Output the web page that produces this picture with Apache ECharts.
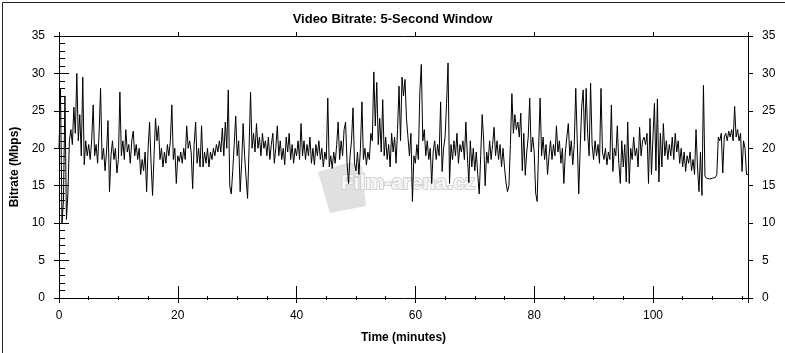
<!DOCTYPE html>
<html>
<head>
<meta charset="utf-8">
<script src="https://cdn.jsdelivr.net/npm/echarts@6/dist/echarts.min.js"></script>
<style>
html,body{margin:0;padding:0;background:#fff;}
#chart{width:785px;height:353px;}
</style>
</head>
<body>
<div id="chart"></div>
<script>
// Video bitrate (Mbps), one sample every 0.25 minute, starting at minute 0
const sampleStepMinutes = 0.25;
const bitrate00to10 = [
  20,28,10,13,27,10.5,14,21,22.5,20.5,25.5,22,30,21,24.5,19,29.5,17.8,21,19,
  20.5,18.5,21,25.8,19,20.5,18,22,28,18.5,20,17,19.5,23.7,14.2,19,21,18.5,20,16.7
];
const bitrate10to20 = [
  18.5,27.5,19,21,18.5,22.5,19.5,20.5,18,21,22.3,19,20.5,18.5,20,16.5,18.5,17,19.5,14.2,
  20,23.5,18,13.7,19,24,21,23,18.5,20,17.5,19.5,18,20.5,19,21,25.8,18.5,20,15.3
];
const bitrate20to30 = [
  19,18.2,19.5,18,20,18.5,23,20,21,19.5,14.6,20.5,23.5,18,20,17.5,23,17.5,19.5,18,
  20,17.5,19.5,18.5,20,19,20.5,19.5,21,19.5,22.7,19,23.5,20,27.8,15,13.9,17,20.5,24.3
];
const bitrate30to40 = [
  19,21,14.2,18,23.3,19,16,13.3,20,27.5,20,22,19.5,23.3,20,21.5,19,22,20,21,
  19,21.5,18.5,20.5,22,18,20,23,19,21,18.5,20,17.8,21.5,19.5,22,18.5,20.5,18,20
];
const bitrate40to50 = [
  19,21,18.5,23.3,19,21,18.5,20.5,19,21.5,18,20,17.8,20.5,19,21,18.5,20,17.5,19.5,
  18.5,26.7,17.5,19,17.3,19.5,18,20.5,23.5,18.5,21,19,22.5,23.5,18,15.3,19,21,25.4,18
];
const bitrate50to60 = [
  17,19.5,16.5,20,26.2,18.5,20,17.8,19.5,18.5,22,21,30.2,23,28.8,20.5,24,19.5,26.5,19,
  21.5,18.5,20.5,17.5,22,19.5,21.5,18,22.5,28.3,21,29.5,27,29.2,24,21.5,19,22,12.9,19
];
const bitrate60to70 = [
  18,20.5,18.5,27.5,31.2,21,22.5,19,21,18.5,20,15.3,19.5,21,18.5,20.5,19,26.2,16.9,20,
  21.5,26,31.4,15.3,20.5,18.5,21,19,22,18,20.5,19.5,21,18.5,23.5,19,15.4,21,17.5,20
];
const bitrate70to80 = [
  17,19.5,16.5,13.9,19,24.5,21,15,19.5,18,21,18.5,20.5,22.8,19,21,18.5,20.5,17.5,20,
  17.5,15.5,14.2,15,20.5,27.3,22,24.5,22.5,23.5,21.5,24.7,17,22,16.4,19.5,21.5,26.7,19.5,21.5
];
const bitrate80to90 = [
  19.5,14,12.9,20,26.7,19,21.5,18.5,20.5,16.5,19,21,18.5,20.5,19,23,19.5,21,18,20,
  15.3,19.5,21.5,23.3,19,21,17.8,20.5,28,21,13.9,20,25.5,27.8,21,28,22,19,28.7,20.5
];
const bitrate90to100 = [
  18.5,21,19,20.5,18,28,19.5,18.5,20,17.8,19.5,18.5,25.8,16.9,20,19,23,18,15.3,21,
  17.5,20.5,15.5,23.5,15.3,20,18.5,21.5,19,20,17.5,22.8,19,21,21.5,20.5,22,15.3,24,16.5
];
const bitrate100to110 = [
  21.5,26,17,26.6,15.5,22,17.5,23.3,19,21,18.5,20.5,19,21.5,18.5,22,19.5,21,18,20,
  17.5,19.5,16.9,19,18,19.5,17,18.5,16.5,22.5,17.5,14.2,19.5,13.7,28.4,16.3,16,16.2,15.9,16.1
];
const bitrate110toEnd = [
  16,16.2,16.1,16.5,21.5,21,22,16.7,21.5,22,21,22.3,21.5,22.5,21,25.6,21.5,22.5,21,22,
  16.9,21,20,16.5,16.5
];

const titleText = 'Video Bitrate: 5-Second Window';
const xName = 'Time (minutes)';
const yName = 'Bitrate (Mbps)';
const watermarkText = 'Film-arena.cz';

const bitrate = [].concat(bitrate00to10, bitrate10to20, bitrate20to30, bitrate30to40,
  bitrate40to50, bitrate50to60, bitrate60to70, bitrate70to80, bitrate80to90,
  bitrate90to100, bitrate100to110, bitrate110toEnd);
const seriesData = bitrate.map((v, i) => [i * sampleStepMinutes, v]);

const FONT = 'Liberation Sans, Arial, sans-serif';
const X_MIN = 0, X_MAX = 116, Y_MIN = 0, Y_MAX = 35;

// axis that only draws outward ticks; a negative offset shifts it into the plot
// so that its outward ticks end on the frame (giving "inside" ticks)
function tickAxis(kind, position, interval, length, offset) {
  const base = kind === 'x'
    ? { min: X_MIN, max: X_MAX } : { min: Y_MIN, max: Y_MAX };
  return Object.assign(base, {
    type: 'value', position: position, interval: interval, offset: offset || 0,
    axisLine: { show: false },
    axisTick: { show: true, inside: false, length: length, lineStyle: { color: '#000', width: 1 } },
    axisLabel: { show: false },
    splitLine: { show: false }
  });
}

const xMain = Object.assign(tickAxis('x', 'bottom', 20, 5, 0), {
  axisLine: { show: true, onZero: false, lineStyle: { color: '#000', width: 1 } },
  axisLabel: { show: true, color: '#000', fontFamily: FONT, fontSize: 12, margin: 12,
    formatter: v => (v % 20 === 0 ? String(v) : '') },
  name: xName, nameLocation: 'middle', nameGap: 34,
  nameTextStyle: { fontFamily: FONT, fontSize: 12, fontWeight: 'bold', color: '#000' }
});
const xTopFrame = Object.assign(tickAxis('x', 'top', 20, 4, 0), {
  axisLine: { show: true, onZero: false, lineStyle: { color: '#000', width: 1 } }
});
const yMain = Object.assign(tickAxis('y', 'left', 5, 5, 0), {
  axisLine: { show: true, onZero: false, lineStyle: { color: '#000', width: 1 } },
  axisLabel: { show: true, color: '#000', fontFamily: FONT, fontSize: 12, margin: 14 },
  name: yName, nameLocation: 'middle', nameGap: 34,
  nameTextStyle: { fontFamily: FONT, fontSize: 12, fontWeight: 'bold', color: '#000' }
});
const yRight = Object.assign(tickAxis('y', 'right', 5, 5, 0), {
  axisLine: { show: true, onZero: false, lineStyle: { color: '#000', width: 1 } },
  axisLabel: { show: true, color: '#000', fontFamily: FONT, fontSize: 12, margin: 14 }
});

const chart = echarts.init(document.getElementById('chart'), null, { renderer: 'canvas' });
chart.setOption({
  backgroundColor: '#fff',
  animation: false,
  title: {
    text: titleText, left: 'center', top: 8,
    textStyle: { fontFamily: FONT, fontSize: 13, fontWeight: 'bold', color: '#000' }
  },
  grid: { left: 59, right: 37, top: 36, bottom: 55, show: false },
  xAxis: [
    xMain,
    tickAxis('x', 'bottom', 20, 6, -6),
    tickAxis('x', 'bottom', 5, 2, 0),
    xTopFrame,
    tickAxis('x', 'top', 20, 6, -6),
    tickAxis('x', 'top', 5, 2, 0)
  ],
  yAxis: [
    yMain,
    tickAxis('y', 'left', 5, 5, -5),
    tickAxis('y', 'left', 1, 3, -3),
    yRight,
    tickAxis('y', 'right', 5, 5, -5),
    tickAxis('y', 'right', 1, 3, -3)
  ],
  graphic: [
    { type: 'rect', left: 0, top: 0, z: 100, silent: true,
      shape: { x: 0.5, y: 0.5, width: 783, height: 351 },
      style: { fill: null, stroke: '#222', lineWidth: 1 } },
    { type: 'polygon', z: 0, silent: true,
      shape: { points: [[318, 172], [350, 162], [362, 166], [366, 206], [330, 213]] },
      style: { fill: '#e0e0e0' } },
    { type: 'text', z: 1, silent: true, left: 340, top: 172,
      style: { text: watermarkText, fill: '#f6f6f6', stroke: '#d2d2d2', lineWidth: 2,
        font: 'bold 21px ' + FONT } }
  ],
  series: [{
    type: 'line', data: seriesData, xAxisIndex: 0, yAxisIndex: 0,
    showSymbol: false, symbol: 'none', smooth: false, z: 10,
    lineStyle: { color: '#000', width: 1 }
  }]
});
</script>
</body>
</html>
